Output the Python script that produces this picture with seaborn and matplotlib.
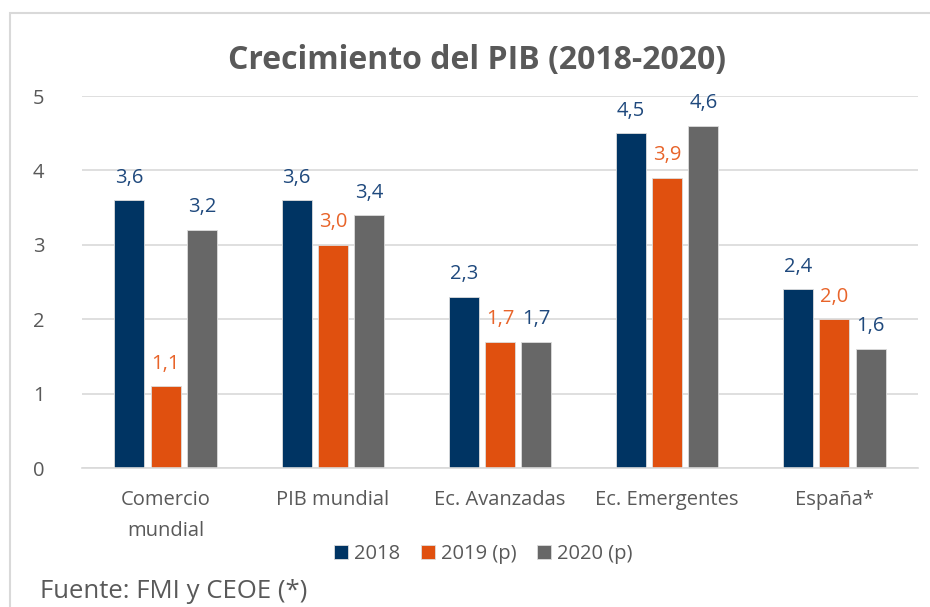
import matplotlib
matplotlib.use("Agg")
import matplotlib.pyplot as plt
import seaborn as sns
import pandas as pd
from matplotlib.patches import Rectangle

categories = ["Comercio\nmundial", "PIB mundial", "Ec. Avanzadas", "Ec. Emergentes", "España*"]
series = ["2018", "2019 (p)", "2020 (p)"]
v2018 = [3.6, 3.6, 2.3, 4.5, 2.4]
v2019 = [1.1, 3.0, 1.7, 3.9, 2.0]
v2020 = [3.2, 3.4, 1.7, 4.6, 1.6]
yticks = [0, 1, 2, 3, 4, 5]

bar_colors = ["#003463", "#E0500F", "#676767"]
label_colors = ["#1F497D", "#E8642A", "#1F497D"]

rows = []
for s, vals in zip(series, [v2018, v2019, v2020]):
    for c, v in zip(categories, vals):
        rows.append({"cat": c, "serie": s, "val": v})
df = pd.DataFrame(rows)

sns.set_theme(style="white")
plt.rcParams['font.family'] = ['Open Sans', 'DejaVu Sans']

fig = plt.figure(figsize=(9.3, 6.07), dpi=100)
fig.patch.set_facecolor("white")
ax = fig.add_axes([82/930, 1-468/607, (918-82)/930, (468-96)/607])

sns.barplot(data=df, x="cat", y="val", hue="serie", order=categories, hue_order=series,
            palette=bar_colors, width=0.65, gap=0.17, ax=ax, edgecolor="#dddddd",
            linewidth=0.6, saturation=1, legend=True)

for cont, col in zip(ax.containers, label_colors):
    ax.bar_label(cont, labels=[f"{b.get_height():.1f}".replace(".", ",") for b in cont],
                 padding=9, color=col, fontsize=14.5)

ax.set_xlim(-0.5, 4.5)
ax.set_ylim(0, 5)
ax.set_yticks(yticks)
ax.set_yticklabels([str(t) for t in yticks])
ax.yaxis.grid(True, color="#d9d9d9", linewidth=1.2)
ax.set_axisbelow(True)
for sp in ax.spines.values():
    sp.set_visible(False)
ax.spines["bottom"].set_visible(True)
ax.spines["bottom"].set_color("#d9d9d9")
ax.spines["bottom"].set_linewidth(1.2)
ax.set_xlabel("")
ax.set_ylabel("")
ax.tick_params(axis="x", colors="#595959", labelsize=14.5, length=0, pad=16)
ax.tick_params(axis="y", colors="#595959", labelsize=14.5, length=0, pad=27)
for lbl in ax.get_xticklabels():
    lbl.set_linespacing(1.75)

leg = ax.legend(loc="upper center", bbox_to_anchor=(0.48, -0.155), ncol=3, frameon=False,
                fontsize=14.5, handlelength=0.7, handleheight=0.7, handletextpad=0.3,
                columnspacing=1.0, labelcolor="#595959")

fig.text(477/930, 1-61/607, "Crecimiento del PIB (2018-2020)", ha="center", va="center",
         fontsize=23, fontweight="bold", color="#595959")
fig.text(40/930, 1-591/607, "Fuente: FMI y CEOE (*)", ha="left", va="center",
         fontsize=18.5, color="#595959")

fig.patches.append(Rectangle((10/930, -0.1), 1.0, 1-13/607+0.1, transform=fig.transFigure,
                             fill=False, edgecolor="#d9d9d9", linewidth=1.5))

fig.savefig("out.png", dpi=100)
